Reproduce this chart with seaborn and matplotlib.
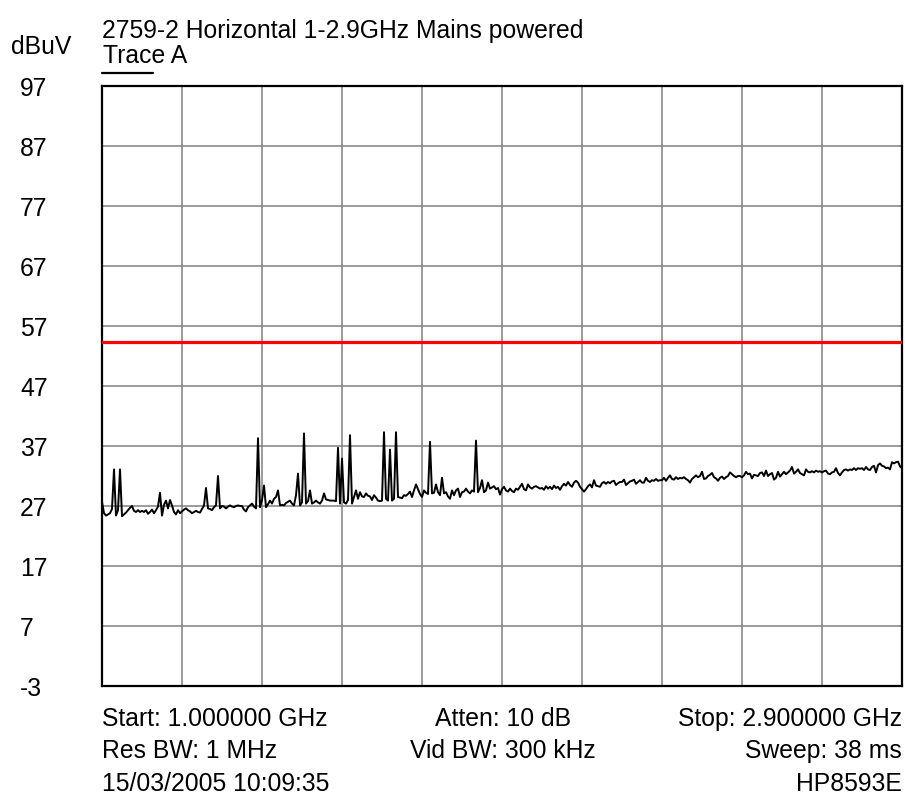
import numpy as np
import pandas as pd
import seaborn as sns
import matplotlib.pyplot as plt
from matplotlib.lines import Line2D

# Sweep settings (HP8593E, 401 trace points)
start_ghz = 1.0
stop_ghz = 2.9
limit_dbuv = 54.3
y_ticks = [97, 87, 77, 67, 57, 47, 37, 27, 17, 7, -3]

# Trace A levels, dBuV
level_dbuv = [
    27.7, 25.8, 25.4, 25.6, 25.8, 26.5, 33.1, 25.4, 26.3, 33.1, 25.3, 25.6, 25.9, 26.3, 26.7, 27.0, 26.2, 26.0, 26.3, 26.0,
    26.2, 26.0, 26.3, 25.7, 26.0, 26.4, 25.8, 26.3, 26.9, 29.2, 25.4, 27.2, 27.9, 26.6, 28.0, 27.1, 26.0, 25.6, 26.3, 25.8,
    26.1, 26.4, 26.6, 26.3, 26.1, 25.8, 26.0, 26.2, 26.0, 25.9, 26.5, 27.1, 30.0, 26.6, 26.5, 26.3, 26.8, 27.1, 32.0, 26.6,
    27.0, 26.9, 26.6, 26.9, 27.1, 26.9, 26.8, 27.0, 27.1, 27.0, 27.0, 26.4, 26.1, 26.8, 27.1, 27.4, 26.9, 26.6, 38.3, 26.8,
    28.0, 30.4, 26.8, 27.3, 27.9, 27.4, 28.2, 28.5, 29.6, 27.1, 27.2, 27.1, 27.5, 27.7, 27.9, 27.4, 27.1, 28.8, 32.4, 27.1,
    27.6, 39.1, 27.4, 27.8, 29.6, 27.4, 27.6, 27.9, 27.6, 27.4, 27.9, 29.1, 28.1, 28.0, 27.9, 27.9, 27.9, 27.8, 36.7, 27.4,
    34.9, 27.6, 27.4, 28.0, 38.8, 27.4, 28.5, 29.6, 28.2, 29.3, 28.6, 28.5, 29.1, 28.7, 28.6, 28.0, 28.8, 28.4, 27.9, 27.8,
    27.9, 39.3, 28.2, 27.9, 36.4, 27.9, 28.2, 39.3, 28.5, 28.4, 28.3, 28.8, 28.7, 29.0, 29.4, 28.5, 29.6, 30.6, 29.8, 29.0,
    28.5, 29.6, 29.2, 29.0, 37.7, 29.1, 29.2, 30.6, 29.3, 28.8, 31.7, 29.1, 29.3, 28.6, 28.2, 29.6, 28.8, 29.6, 29.9, 28.5,
    29.3, 29.4, 29.9, 29.4, 29.1, 29.6, 29.4, 37.9, 29.3, 30.0, 31.3, 29.3, 29.6, 30.9, 29.9, 30.1, 30.3, 29.8, 30.0, 28.9,
    29.8, 30.2, 29.6, 29.4, 29.9, 29.5, 29.3, 29.9, 29.7, 30.2, 30.7, 29.8, 29.6, 30.6, 30.1, 29.9, 30.2, 30.3, 30.1, 29.9,
    30.0, 29.7, 30.3, 29.9, 30.2, 29.8, 30.4, 30.0, 30.2, 29.7, 30.3, 30.7, 30.4, 31.0, 30.5, 30.2, 30.9, 31.2, 30.9, 30.2,
    29.8, 29.4, 29.8, 30.3, 30.6, 30.1, 31.3, 30.4, 30.3, 30.2, 30.8, 31.0, 30.7, 31.0, 30.8, 31.1, 31.2, 30.5, 30.8, 31.0,
    31.0, 31.4, 30.5, 30.8, 31.1, 31.2, 31.4, 30.7, 31.0, 31.3, 30.9, 30.9, 31.7, 31.2, 31.0, 31.3, 31.2, 31.5, 31.2, 31.3,
    31.3, 31.7, 31.2, 31.7, 32.1, 31.5, 31.4, 31.8, 31.5, 31.7, 31.6, 31.8, 31.5, 31.3, 30.9, 31.5, 31.8, 32.1, 31.8, 32.0,
    32.7, 31.5, 31.6, 32.0, 32.2, 32.5, 31.8, 31.6, 31.2, 31.7, 31.9, 31.5, 31.8, 32.0, 32.6, 32.3, 32.0, 31.8, 32.0, 32.0,
    31.8, 32.1, 32.7, 32.3, 32.4, 31.6, 32.2, 32.1, 32.0, 32.5, 32.6, 32.0, 32.9, 32.0, 32.3, 32.5, 31.4, 31.7, 32.7, 31.9,
    32.3, 32.7, 32.3, 32.6, 32.9, 33.5, 32.4, 32.7, 33.1, 32.5, 32.3, 32.1, 33.1, 32.7, 32.6, 32.8, 32.6, 32.9, 32.7, 32.8,
    32.6, 32.8, 32.9, 32.4, 32.3, 32.6, 32.7, 33.3, 32.5, 32.1, 32.6, 33.0, 33.1, 32.9, 33.1, 33.0, 33.3, 33.0, 33.3, 33.2,
    33.3, 33.0, 33.5, 33.1, 33.0, 33.5, 33.7, 32.6, 33.8, 34.1, 33.7, 33.6, 33.3, 33.4, 33.1, 34.3, 34.1, 34.3, 34.4, 33.6, 33.3,
]

freq_ghz = np.linspace(start_ghz, stop_ghz, len(level_dbuv))
df = pd.DataFrame({"freq": freq_ghz, "level": level_dbuv})

sns.set_style("white")
plt.rcParams["font.family"] = ["Liberation Sans", "DejaVu Sans"]
plt.rcParams["text.color"] = "black"
plt.rcParams["ytick.color"] = "black"
plt.rcParams["ytick.labelcolor"] = "black"
fs = 17.8

W, H = 905, 803
fig = plt.figure(figsize=(W / 100, H / 100), dpi=100)
ax = fig.add_axes([102 / W, 1 - 687 / H, 800 / W, 600 / H])


def px(x, y):
    return x / W, 1 - y / H


sns.lineplot(data=df, x="freq", y="level", ax=ax, color="black",
             linewidth=1.4, estimator=None, sort=False)
ax.axhline(limit_dbuv, color="#ff0000", linewidth=2.3, zorder=3)

ax.set_xlim(start_ghz, stop_ghz)
ax.set_ylim(min(y_ticks), max(y_ticks))
ax.set_xticks(np.linspace(start_ghz, stop_ghz, 11))
ax.set_yticks(y_ticks)
ax.set_yticklabels([str(v) for v in y_ticks])
ax.tick_params(axis="x", length=0, labelbottom=False)
ax.tick_params(axis="y", length=0, pad=59, labelsize=fs, labelcolor="black")
for lab in ax.get_yticklabels():
    lab.set_ha("left")
ax.set_xlabel("")
ax.set_ylabel("")
ax.grid(True, color="#808080", linewidth=1.1)
ax.set_axisbelow(True)
for sp in ax.spines.values():
    sp.set_color("black")
    sp.set_linewidth(1.6)
    sp.set_visible(True)

# header text
fig.text(*px(102, 38), "2759-2 Horizontal 1-2.9GHz Mains powered", fontsize=fs, va="baseline", color="black")
fig.text(*px(11, 54), "dBuV", fontsize=fs, va="baseline", color="black")
fig.text(*px(103, 63), "Trace A", fontsize=fs, va="baseline", color="black")
fig.add_artist(Line2D([102 / W, 153 / W], [1 - 74 / H] * 2, color="black", linewidth=1.6))

# instrument settings below the graticule
rows = [
    ("Start: 1.000000 GHz", "Atten: 10 dB", "Stop: 2.900000 GHz"),
    ("Res BW: 1 MHz", "Vid BW: 300 kHz", "Sweep: 38 ms"),
    ("15/03/2005 10:09:35", "", "HP8593E"),
]
for k, (left, mid, right) in enumerate(rows):
    yb = 726 + k * 32.5
    fig.text(*px(102, yb), left, fontsize=fs, va="baseline", ha="left", color="black")
    fig.text(*px(503, yb), mid, fontsize=fs, va="baseline", ha="center", color="black")
    fig.text(*px(902, yb), right, fontsize=fs, va="baseline", ha="right", color="black")

fig.savefig("out.png", dpi=100)
